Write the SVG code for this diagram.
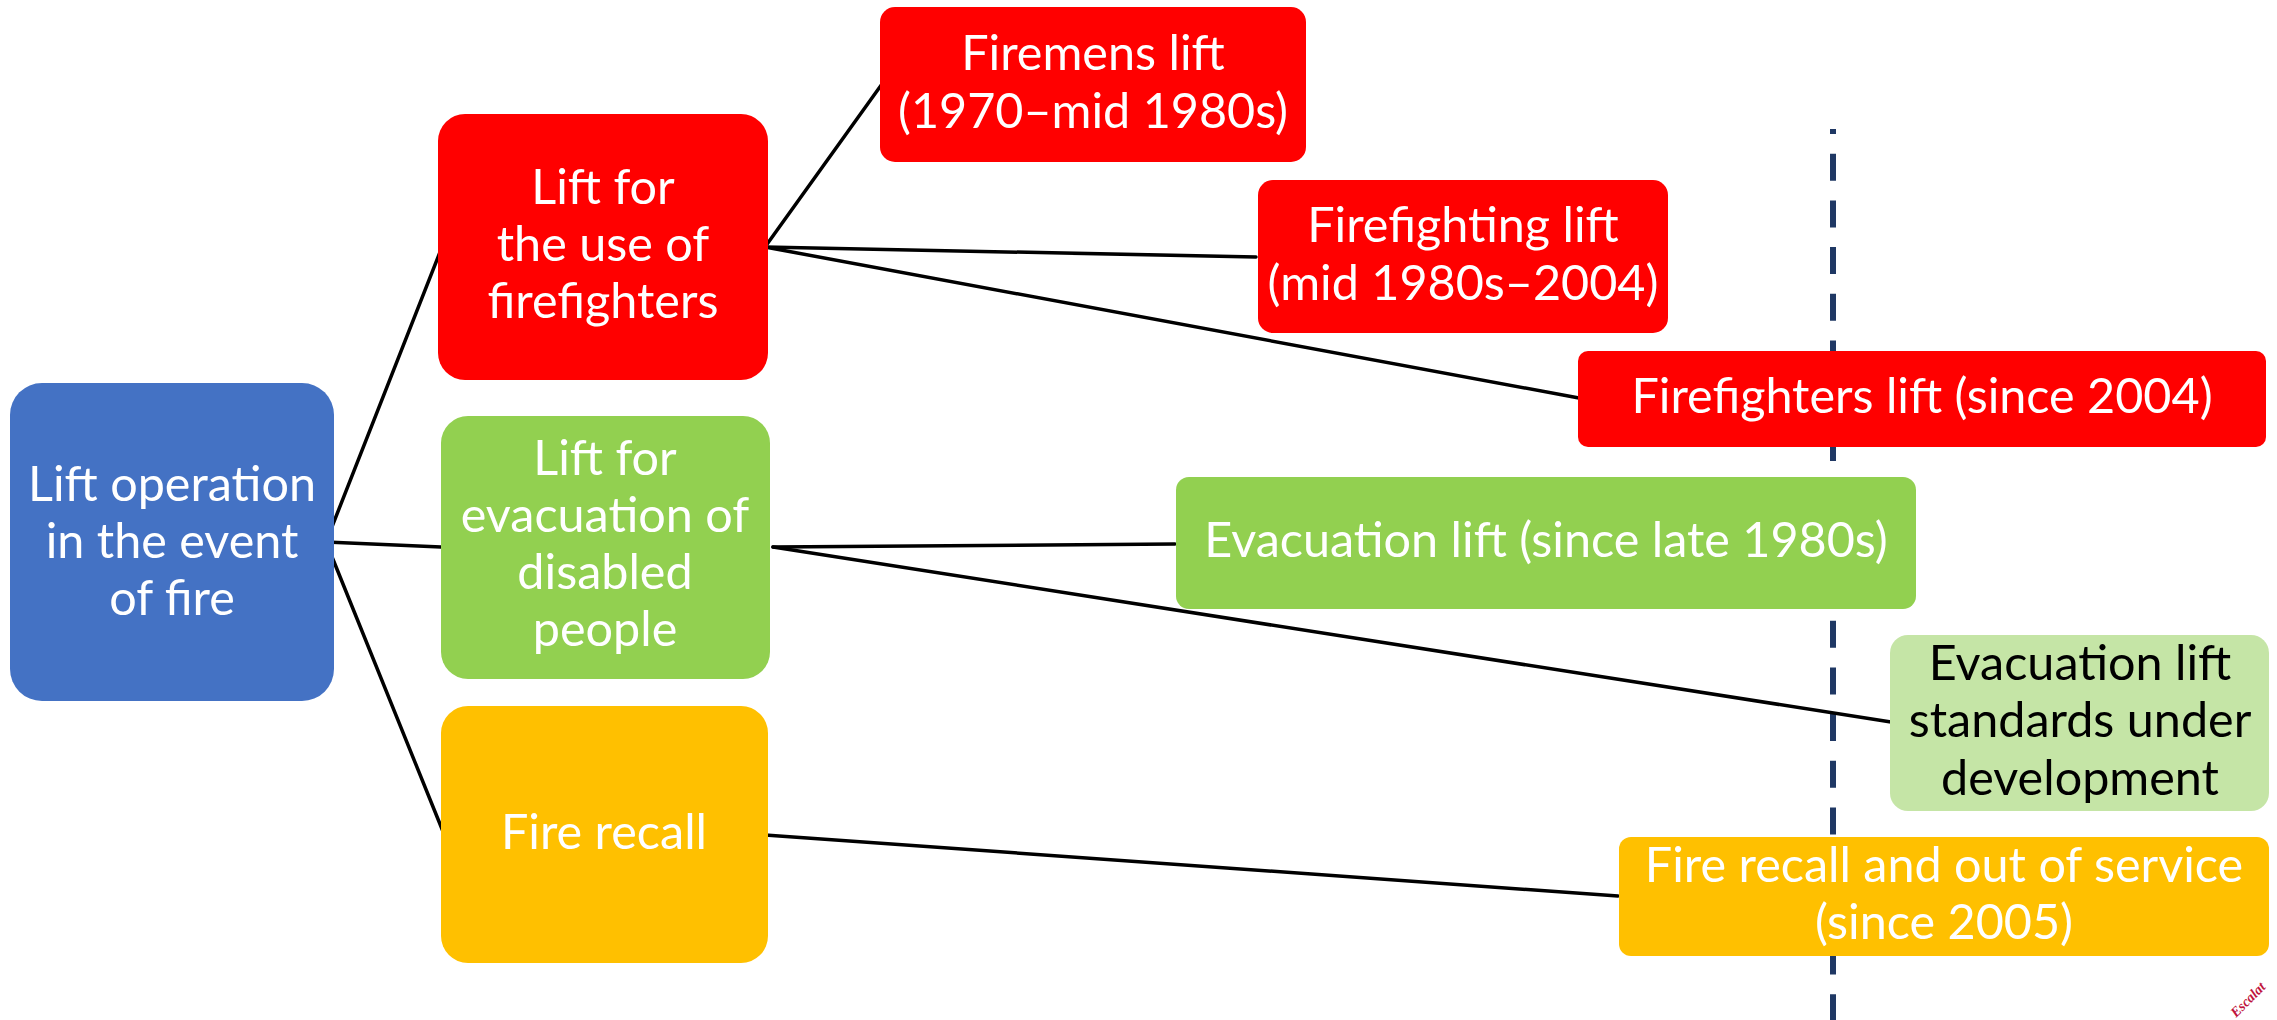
<svg xmlns="http://www.w3.org/2000/svg" width="2277" height="1020" viewBox="0 0 2277 1020">
<style>
text{font-family:Lato,"Noto Sans","Liberation Sans",sans-serif;font-size:48.5px;text-anchor:middle;fill:#FFFFFF}
.dark{fill:#000000}
.conn line{stroke:#000000;stroke-width:3.5;stroke-linecap:round}
.blue{fill:#4472C4}.red{fill:#FF0000}.green{fill:#92D050}.yellow{fill:#FFC000}.lgreen{fill:#C5E5A6}
.wm{font-family:"Liberation Serif",serif;font-style:italic;font-weight:bold;font-size:14px;fill:#C0143C;text-anchor:start}
</style>
<rect width="2277" height="1020" fill="#FFFFFF"/>
<line id="timeline" x1="1833" y1="129" x2="1833" y2="1020" stroke="#1F3864" stroke-width="6" stroke-dasharray="27 19.7" stroke-dashoffset="22"/>
<g id="connectors" class="conn">
<line x1="326" y1="542" x2="442" y2="247"/>
<line x1="326" y1="542" x2="441" y2="547"/>
<line x1="326" y1="542" x2="444" y2="834"/>
<line x1="765" y1="247" x2="882" y2="84"/>
<line x1="765" y1="247" x2="1256" y2="257"/>
<line x1="765" y1="247" x2="1579" y2="398"/>
<line x1="773" y1="547" x2="1175" y2="544"/>
<line x1="773" y1="547" x2="1891" y2="722"/>
<line x1="765" y1="835" x2="1618" y2="896"/>
</g>
<g id="root">
<rect class="blue" x="10" y="383" width="324" height="318" rx="32"/>
<text x="172" y="501">Lift operation</text>
<text x="172" y="558">in the event</text>
<text x="172" y="615">of fire</text>
</g>
<g id="firefighters">
<rect class="red" x="438" y="114" width="330" height="266" rx="27"/>
<text x="603" y="204">Lift for</text>
<text x="603" y="261">the use of</text>
<text x="603" y="318">firefighters</text>
</g>
<g id="evacuation">
<rect class="green" x="441" y="416" width="329" height="263" rx="27"/>
<text x="605" y="475">Lift for</text>
<text x="605" y="532">evacuation of</text>
<text x="605" y="589">disabled</text>
<text x="605" y="646">people</text>
</g>
<g id="recall">
<rect class="yellow" x="441" y="706" width="327" height="257" rx="27"/>
<text x="604" y="849">Fire recall</text>
</g>
<g id="firemens-lift">
<rect class="red" x="880" y="7" width="426" height="155" rx="15"/>
<text x="1093" y="70">Firemens lift</text>
<text x="1093" y="128">(1970–mid 1980s)</text>
</g>
<g id="firefighting-lift">
<rect class="red" x="1258" y="180" width="410" height="153" rx="15"/>
<text x="1463" y="242">Firefighting lift</text>
<text x="1463" y="300">(mid 1980s–2004)</text>
</g>
<g id="firefighters-lift">
<rect class="red" x="1578" y="351" width="688" height="96" rx="10"/>
<text x="1922" y="413">Firefighters lift (since 2004)</text>
</g>
<g id="evacuation-lift">
<rect class="green" x="1176" y="477" width="740" height="132" rx="13"/>
<text x="1546" y="557">Evacuation lift (since late 1980s)</text>
</g>
<g id="evacuation-standards">
<rect class="lgreen" x="1890" y="635" width="379" height="176" rx="18"/>
<text class="dark" x="2080" y="680">Evacuation lift</text>
<text class="dark" x="2080" y="737">standards under</text>
<text class="dark" x="2080" y="795">development</text>
</g>
<g id="recall-out-of-service">
<rect class="yellow" x="1619" y="837" width="650" height="119" rx="12"/>
<text x="1944" y="882">Fire recall and out of service</text>
<text x="1944" y="939">(since 2005)</text>
</g>
<text class="wm" transform="translate(2236,1018) rotate(-45)">Escalat</text>
</svg>
